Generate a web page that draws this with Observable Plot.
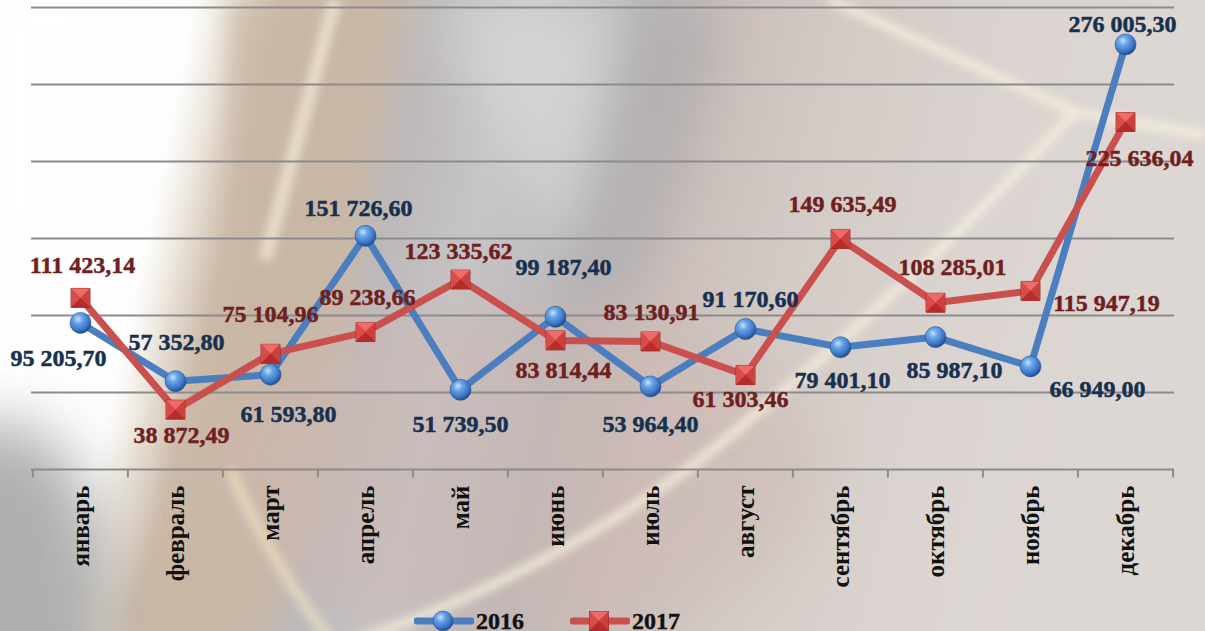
<!DOCTYPE html>
<html>
<head>
<meta charset="utf-8">
<script src="https://cdn.jsdelivr.net/npm/d3@7"></script>
<script src="https://cdn.jsdelivr.net/npm/@observablehq/plot@0.6"></script>
<style>
  html, body { margin: 0; padding: 0; }
  #wrap { position: relative; width: 1205px; height: 631px; overflow: hidden; background: #ddd6d2; }
  #bg { position: absolute; left: 0; top: 0; }
  #chart { position: absolute; left: 0; top: 0; }
  #legend { position: absolute; left: 414px; top: 609px; display: flex; align-items: center; }
  .item { display: flex; align-items: center; margin-right: 46px; }
  .item span { font: bold 24px "Liberation Serif", "Times New Roman", serif; color: #111; line-height: 24px; margin-left: 2px; -webkit-text-stroke: 0.4px #111; }
  #chart text.lbl { paint-order: stroke; }
</style>
</head>
<body>
<div id="wrap">
  <svg id="bg" width="1205" height="631" viewBox="0 0 1205 631">
    <defs>
      <linearGradient id="base" x1="0" y1="0" x2="1" y2="0.12">
        <stop offset="0" stop-color="#fefefe"/>
        <stop offset="0.15" stop-color="#fbfbfb"/>
        <stop offset="0.19" stop-color="#ece6dc"/>
        <stop offset="0.23" stop-color="#cdbcab"/>
        <stop offset="0.30" stop-color="#c8b7a8"/>
        <stop offset="0.36" stop-color="#bdb9ba"/>
        <stop offset="0.43" stop-color="#c6c4c6"/>
        <stop offset="0.53" stop-color="#bab7b9"/>
        <stop offset="0.60" stop-color="#cbbfbb"/>
        <stop offset="0.70" stop-color="#d4cbc6"/>
        <stop offset="0.85" stop-color="#dbd4d0"/>
        <stop offset="1" stop-color="#ddd7d3"/>
      </linearGradient>
      <filter id="b30" x="-50%" y="-50%" width="200%" height="200%"><feGaussianBlur stdDeviation="30"/></filter>
      <filter id="b12" x="-50%" y="-50%" width="200%" height="200%"><feGaussianBlur stdDeviation="12"/></filter>
      <filter id="b4" x="-20%" y="-20%" width="140%" height="140%"><feGaussianBlur stdDeviation="4"/></filter>
    </defs>
    <rect width="1205" height="631" fill="url(#base)"/>
    <!-- left white glow -->
    <path d="M0,0 L205,0 Q170,200 120,420 Q90,520 40,631 L0,631 Z" fill="#ffffff" filter="url(#b12)" opacity="0.9"/>
    <!-- tan band -->
    <path d="M230,0 L400,0 Q360,200 330,470 Q300,560 260,631 L120,631 Q190,450 230,250 Z" fill="#c9b7a4" filter="url(#b12)" opacity="0.75"/>
    <!-- silver swirl in middle-top -->
    <path d="M430,0 L640,0 Q600,150 560,260 Q520,160 430,0 Z" fill="#d8d8da" filter="url(#b30)" opacity="0.8"/>
    <path d="M620,0 L720,0 Q700,180 600,330 L560,300 Q640,160 620,0 Z" fill="#a9a6a9" filter="url(#b30)" opacity="0.6"/>
    <!-- pinkish lower middle -->
    <ellipse cx="520" cy="470" rx="300" ry="170" fill="#cdb8b2" filter="url(#b30)" opacity="0.55"/>
    <!-- bottom-left gray swirl -->
    <ellipse cx="0" cy="600" rx="110" ry="180" fill="#9c9c9e" filter="url(#b30)" opacity="0.8"/>
    <!-- cream stripes -->
    <path d="M335,0 Q300,130 265,260" stroke="#f2ead8" stroke-width="14" fill="none" filter="url(#b4)" opacity="0.7"/>
    <path d="M830,0 L1075,112 L1205,135" stroke="#f7f1de" stroke-width="9" fill="none" filter="url(#b4)" opacity="0.8"/>
    <path d="M1075,112 Q900,300 700,460 Q540,580 330,650" stroke="#f7f1de" stroke-width="10" fill="none" filter="url(#b4)" opacity="0.75"/>
    <path d="M230,470 Q270,560 330,640" stroke="#efe6c2" stroke-width="12" fill="none" filter="url(#b4)" opacity="0.6"/>
    <path d="M0,10 Q200,60 420,20" stroke="#ffffff" stroke-width="0" fill="none"/>
  </svg>
  <div id="chart"></div>
  <div id="legend"></div>
</div>
<script>
const months = ["январь", "февраль", "март", "апрель", "май", "июнь", "июль", "август", "сентябрь", "октябрь", "ноябрь", "декабрь"];
const values2016 = [95205.70, 57352.80, 61593.80, 151726.60, 51739.50, 99187.40, 53964.40, 91170.60, 79401.10, 85987.10, 66949.00, 276005.30];
const values2017 = [111423.14, 38872.49, 75104.96, 89238.66, 123335.62, 83814.44, 83130.91, 61303.46, 149635.49, 108285.01, 115947.19, 225636.04];
const seriesNames = ["2016", "2017"];
const yTicks = [0, 50000, 100000, 150000, 200000, 250000, 300000];

// label nudges (pixels, relative to each point) — layout only
const nudge2016 = [[-22, 35], [1, -39], [18, 40], [-7, -28], [0, 34], [8, -49], [0, 38], [5, -30], [2, 33], [19, 33], [67, 23], [-3, -20]];
const nudge2017 = [[2, -33], [6, 26], [0, -40], [2, -35], [-2, -28], [8, 30], [1, -29], [-5, 24], [2, -35], [17, -35], [76, 12], [14, 36]];

const W = 1205, H = 631, mL = 31, mR = 31, mT = 7, mB = 162;
const step = (W - mL - mR) / months.length;

const locale = d3.formatLocale({decimal: ",", thousands: " ", grouping: [3], currency: ["", ""]});
const fmt = locale.format(",.2f");

const rows2016 = months.map((m, i) => ({month: m, value: values2016[i]}));
const rows2017 = months.map((m, i) => ({month: m, value: values2017[i]}));

const BLUE = "#4a7ebe", RED = "#c9504d";
const BLUE_TXT = "#17304f", RED_TXT = "#6e1f1e";
const FONT = "Liberation Serif, Times New Roman, serif";

const h = 9.5;
const tri = (pts) => ({draw(ctx) { ctx.moveTo(pts[0][0], pts[0][1]); for (const p of pts.slice(1)) ctx.lineTo(p[0], p[1]); ctx.closePath(); }});
const symTop = tri([[-h, -h], [h, -h], [0, 0]]);
const symBottom = tri([[-h, h], [h, h], [0, 0]]);
const symLeft = tri([[-h, -h], [-h, h], [0, 0]]);
const symRight = tri([[h, -h], [h, h], [0, 0]]);
const symSquare = tri([[-h, -h], [h, -h], [h, h], [-h, h]]);
const symTick = {draw(ctx) { ctx.moveTo(0, 0); ctx.lineTo(0, 8); }};

const textMarks = (rows, nudges, color) => rows.map((r, i) => Plot.text([r], {
  x: "month", y: "value", text: d => fmt(d.value),
  dx: nudges[i][0], dy: nudges[i][1],
  fill: color, stroke: color, strokeWidth: 0.5,
  fontSize: 24, fontWeight: "bold", fontFamily: FONT,
  textAnchor: "middle", lineAnchor: "middle"
}));

const plot = Plot.plot({
  width: W, height: H,
  marginLeft: mL, marginRight: mR, marginTop: mT, marginBottom: mB,
  style: {background: "transparent", overflow: "visible"},
  x: {type: "point", domain: months, padding: 0.5, label: null},
  y: {domain: [0, 300000], label: null, axis: null},
  marks: [
    Plot.ruleY(yTicks, {stroke: "#8b8b8b", strokeWidth: 2}),
    Plot.dot(months, {x: d => d, y: 0, dx: -step / 2, symbol: symTick, stroke: "#8b8b8b", strokeWidth: 2, fill: "none", r: 4}),
    Plot.dot([months[months.length - 1]], {x: d => d, y: 0, dx: step / 2, symbol: symTick, stroke: "#8b8b8b", strokeWidth: 2, fill: "none", r: 4}),
    Plot.axisX({
      tickSize: 0, tickPadding: 16, tickRotate: -90,
      fontSize: 25, fontWeight: "bold", fill: "#111", stroke: "#111", strokeWidth: 0.4,
      fontFamily: FONT, label: null
    }),
    Plot.line(rows2016, {x: "month", y: "value", stroke: BLUE, strokeWidth: 7, strokeLinejoin: "round"}),
    Plot.line(rows2017, {x: "month", y: "value", stroke: RED, strokeWidth: 7, strokeLinejoin: "round"}),
    Plot.dot(rows2016, {x: "month", y: "value", r: 10.5, fill: "url(#gBlue)", stroke: "#24508a", strokeWidth: 0.6}),
    Plot.dot(rows2017, {x: "month", y: "value", symbol: symSquare, r: 5, fill: "#c53a38", stroke: "#8a2220", strokeWidth: 0.8}),
    Plot.dot(rows2017, {x: "month", y: "value", symbol: symTop, r: 5, fill: "#ef6b69"}),
    Plot.dot(rows2017, {x: "month", y: "value", symbol: symLeft, r: 5, fill: "#d84c4a"}),
    Plot.dot(rows2017, {x: "month", y: "value", symbol: symRight, r: 5, fill: "#cc403e"}),
    Plot.dot(rows2017, {x: "month", y: "value", symbol: symBottom, r: 5, fill: "#b52c2b"}),
    ...textMarks(rows2016, nudge2016, BLUE_TXT),
    ...textMarks(rows2017, nudge2017, RED_TXT)
  ]
});

const defs = `<defs>
  <radialGradient id="gBlue" cx="0.38" cy="0.32" r="0.7">
    <stop offset="0" stop-color="#c9e3ff"/>
    <stop offset="0.3" stop-color="#6aa6ea"/>
    <stop offset="0.75" stop-color="#3a74c4"/>
    <stop offset="1" stop-color="#1f4a88"/>
  </radialGradient>
</defs>`;
plot.insertAdjacentHTML("afterbegin", defs);
document.getElementById("chart").appendChild(plot);

// legend
const legend = document.getElementById("legend");
seriesNames.forEach((name, k) => {
  const item = document.createElement("div");
  item.className = "item";
  const marker = k === 0
    ? `<circle cx="29" cy="10" r="10" fill="url(#gBlue)" stroke="#24508a" stroke-width="0.6"/>`
    : `<g transform="translate(29,10)"><rect x="-9.5" y="-9.5" width="19" height="19" fill="#c53a38" stroke="#8a2220" stroke-width="0.8"/>
       <path d="M-9.5,-9.5L9.5,-9.5L0,0Z" fill="#ef6b69"/><path d="M-9.5,-9.5L-9.5,9.5L0,0Z" fill="#d84c4a"/>
       <path d="M9.5,-9.5L9.5,9.5L0,0Z" fill="#cc403e"/><path d="M-9.5,9.5L9.5,9.5L0,0Z" fill="#b52c2b"/></g>`;
  item.innerHTML = `<svg width="60" height="22" viewBox="0 -1 60 22">
    <line x1="3" y1="10" x2="57" y2="10" stroke="${k === 0 ? BLUE : RED}" stroke-width="7" stroke-linecap="round"/>
    ${marker}</svg><span>${name}</span>`;
  legend.appendChild(item);
});
</script>
</body>
</html>
